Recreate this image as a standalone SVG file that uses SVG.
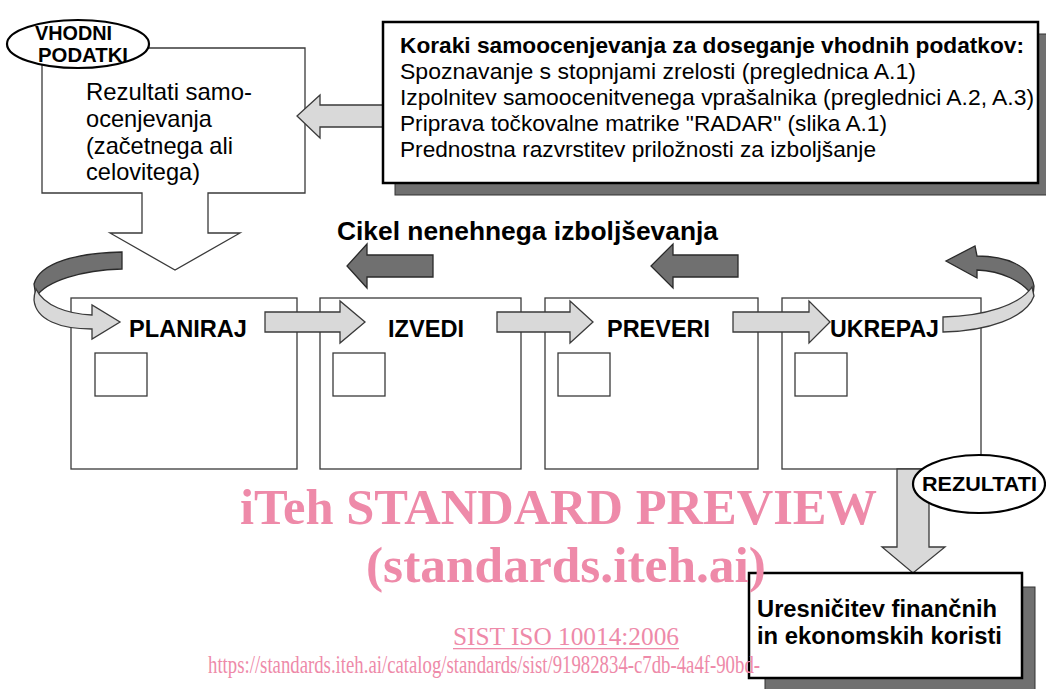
<svg xmlns="http://www.w3.org/2000/svg" width="1046" height="689" viewBox="0 0 1046 689">
  <style>
    .sans { font-family: "Liberation Sans", Arial, sans-serif; fill: #000; }
    .b { font-weight: bold; }
    .frame { fill: #fff; stroke: #3a3a3a; stroke-width: 1.3; }
    .heavy { fill: #fff; stroke: #000; stroke-width: 2.5; }
    .shadow { fill: #707070; stroke: #333; stroke-width: 1; }
    .light { fill: #d9d9d9; stroke: #3a3a3a; stroke-width: 1.3; stroke-linejoin: miter; }
    .dark { fill: #707070; stroke: #2a2a2a; stroke-width: 1.3; }
    .oval { fill: #fff; stroke: #000; stroke-width: 2.2; }
    .wm { font-family: "Liberation Serif", "Times New Roman", serif; fill: #ee8aa9; }
  </style>

  <!-- input: self-assessment results -->
  <g id="input">
    <path class="frame" d="M42,48 L305,48 L305,193 L208,193 L208,233 L240,233 L175,270 L110,233 L142,233 L142,193 L42,193 Z"/>
    <text class="sans" font-size="24" x="86" y="100" textLength="166" lengthAdjust="spacingAndGlyphs">Rezultati samo-</text>
    <text class="sans" font-size="24" x="86" y="127" textLength="126" lengthAdjust="spacingAndGlyphs">ocenjevanja</text>
    <text class="sans" font-size="24" x="86" y="154" textLength="147" lengthAdjust="spacingAndGlyphs">(začetnega ali</text>
    <text class="sans" font-size="24" x="86" y="180" textLength="114" lengthAdjust="spacingAndGlyphs">celovitega)</text>
    <ellipse class="oval" cx="78" cy="44" rx="71" ry="24"/>
    <text class="sans b" font-size="19.5" x="35" y="40" textLength="77" lengthAdjust="spacingAndGlyphs">VHODNI</text>
    <text class="sans b" font-size="19.5" x="38" y="62" textLength="90" lengthAdjust="spacingAndGlyphs">PODATKI</text>
  </g>

  <!-- PDCA step panels -->
  <g id="planiraj">
    <rect class="frame" x="71" y="298" width="226" height="171"/>
    <rect class="frame" x="95" y="353" width="52" height="43"/>
    <text class="sans b" font-size="23.5" x="129" y="337" textLength="118" lengthAdjust="spacingAndGlyphs">PLANIRAJ</text>
  </g>
  <g id="izvedi">
    <rect class="frame" x="320" y="298" width="201" height="171"/>
    <rect class="frame" x="333" y="353" width="52" height="43"/>
    <text class="sans b" font-size="23.5" x="388" y="337" textLength="76" lengthAdjust="spacingAndGlyphs">IZVEDI</text>
  </g>
  <g id="preveri">
    <rect class="frame" x="545" y="298" width="213" height="171"/>
    <rect class="frame" x="558" y="353" width="52" height="43"/>
    <text class="sans b" font-size="23.5" x="607" y="337" textLength="103" lengthAdjust="spacingAndGlyphs">PREVERI</text>
  </g>
  <g id="ukrepaj">
    <rect class="frame" x="782" y="298" width="199" height="171"/>
    <rect class="frame" x="795" y="353" width="52" height="43"/>
    <text class="sans b" font-size="23.5" x="830" y="337" textLength="109" lengthAdjust="spacingAndGlyphs">UKREPAJ</text>
  </g>

  <!-- cycle title -->
  <g id="title">
    <text class="sans b" font-size="26" x="337" y="240" textLength="381" lengthAdjust="spacingAndGlyphs">Cikel nenehnega izboljševanja</text>
  </g>

  <!-- connectors -->
  <g id="connectors">
    <!-- steps box feeding the input block -->
    <path class="light" d="M384,105 L320,105 L320,95 L297,116 L320,138 L320,127 L384,127 Z"/>
    <!-- forward arrows between panels -->
    <path class="light" d="M265,312 L340,312 L340,301 L365,322 L340,343 L340,332 L265,332 Z"/>
    <path class="light" d="M497,312 L570,312 L570,301 L593,322 L570,343 L570,332 L497,332 Z"/>
    <path class="light" d="M733,312 L809,312 L809,301 L830,322 L809,343 L809,332 L733,332 Z"/>
    <!-- backward cycle arrows -->
    <path class="dark" d="M433,255 L367,255 L367,244 L347,266 L367,288 L367,277 L433,277 Z"/>
    <path class="dark" d="M738,255 L673,255 L673,244 L651,266 L673,288 L673,277 L738,277 Z"/>
    <!-- loop into PLANIRAJ -->
    <path class="dark" d="M122,252 C78,253 40,262 34,284 L36,297 C46,281 82,270 122,269 Z"/>
    <path class="light" d="M36,289 C44,306 68,314 92,315 L92,305 L120,322 L92,339 L92,329 C60,329 36,320 34,300 C34,296 35,292 36,289 Z"/>
    <!-- loop out of UKREPAJ -->
    <path class="dark" d="M977,256 C1006,256 1031,266 1034,286 L1033,296 C1022,281 1002,271 977,270 L977,278 L946,261 L975,246 Z"/>
    <path class="light" d="M943,317 C985,316 1020,305 1032,287 L1034,296 C1026,318 988,331 943,332 Z"/>
    <!-- results down to benefits -->
    <path class="light" d="M897,469 L929,469 L929,547 L945,547 L913,573 L882,547 L897,547 Z"/>
  </g>

  <!-- steps to reach the input data -->
  <g id="steps">
    <rect class="shadow" x="395" y="34" width="660" height="161"/>
    <rect class="heavy" x="383" y="22" width="655" height="161"/>
    <text class="sans b" font-size="22.5" x="400" y="53" textLength="624" lengthAdjust="spacingAndGlyphs">Koraki samoocenjevanja za doseganje vhodnih podatkov:</text>
    <text class="sans" font-size="22.7" x="400" y="79" textLength="516" lengthAdjust="spacingAndGlyphs">Spoznavanje s stopnjami zrelosti (preglednica A.1)</text>
    <text class="sans" font-size="22.7" x="400" y="105" textLength="634" lengthAdjust="spacingAndGlyphs">Izpolnitev samoocenitvenega vprašalnika (preglednici A.2, A.3)</text>
    <text class="sans" font-size="22.7" x="400" y="131" textLength="487" lengthAdjust="spacingAndGlyphs">Priprava točkovalne matrike "RADAR" (slika A.1)</text>
    <text class="sans" font-size="22.7" x="400" y="157" textLength="476" lengthAdjust="spacingAndGlyphs">Prednostna razvrstitev priložnosti za izboljšanje</text>
  </g>

  <!-- results label -->
  <g id="rezultati">
    <ellipse class="oval" cx="979" cy="484" rx="66" ry="29"/>
    <text class="sans b" font-size="20.5" x="922" y="491" textLength="115" lengthAdjust="spacingAndGlyphs">REZULTATI</text>
  </g>

  <!-- realised benefits -->
  <g id="benefits">
    <rect class="shadow" x="765" y="587" width="270" height="110"/>
    <rect class="heavy" x="749" y="573" width="273" height="105"/>
    <text class="sans b" font-size="23.5" x="757" y="617" textLength="240" lengthAdjust="spacingAndGlyphs">Uresničitev finančnih</text>
    <text class="sans b" font-size="23.5" x="757" y="644" textLength="245" lengthAdjust="spacingAndGlyphs">in ekonomskih koristi</text>
  </g>

  <!-- preview stamp -->
  <g id="watermark">
    <text class="wm b" font-size="51" x="240" y="524" textLength="637" lengthAdjust="spacingAndGlyphs">iTeh STANDARD PREVIEW</text>
    <text class="wm b" font-size="51" x="366" y="582" textLength="400" lengthAdjust="spacingAndGlyphs">(standards.iteh.ai)</text>
    <text class="wm" font-size="25" x="453" y="645" textLength="226" lengthAdjust="spacingAndGlyphs">SIST ISO 10014:2006</text>
    <rect x="453" y="648" width="226" height="1.3" fill="#ee8aa9"/>
    <text class="wm" font-size="25" x="208" y="673" textLength="552" lengthAdjust="spacingAndGlyphs">https://standards.iteh.ai/catalog/standards/sist/91982834-c7db-4a4f-90bd-</text>
  </g>
</svg>
